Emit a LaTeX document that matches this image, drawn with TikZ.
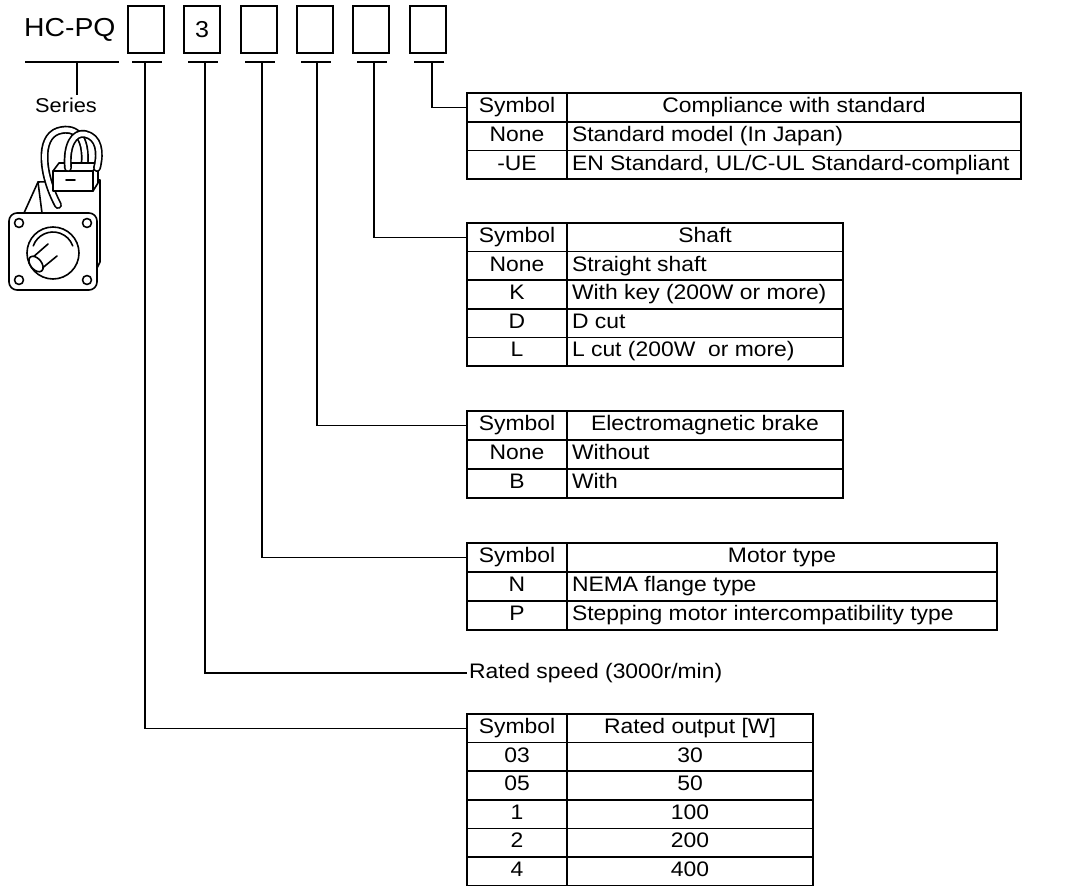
\documentclass[tikz,border=0pt]{standalone}
\usepackage{fontspec}
\setmainfont{Liberation Sans}[FakeStretch=1.09]
\usetikzlibrary{calc}

% rows of a symbol table: name prefix, (previous index,) index, symbol, description
\newcommand\firstrow[4]{%
  \node[cell, minimum width=\sw pt, minimum height=\rh pt] (#1s0) at #2 {#3};
  \node[cell, minimum width=\dw pt, minimum height=\rh pt] (#1d0) at (#1s0.north east) {#4};}
\newcommand\leftrow[5]{%
  \node[cell, minimum width=\sw pt, minimum height=\rh pt] (#1s#3) at (#1s#2.south west) {#4};
  \node[cell, minimum width=\dw pt, minimum height=\rh pt] (#1d#3) at (#1s#3.north east)
    {\makebox[\dw pt][l]{\hspace{5pt}#5}};}
\newcommand\centrow[5]{%
  \node[cell, minimum width=\sw pt, minimum height=\rh pt] (#1s#3) at (#1s#2.south west) {#4};
  \node[cell, minimum width=\dw pt, minimum height=\rh pt] (#1d#3) at (#1s#3.north east) {#5};}

\begin{document}
\begin{tikzpicture}[x=1pt,y=-1pt,
  txt/.style={font=\fontsize{21}{25}\selectfont},
  cell/.style={txt, draw, line width=1.6pt, inner sep=0pt, outer sep=0pt, anchor=north west,
    text height=15pt, text depth=4.5pt},
  codebox/.style={draw, line width=2.2pt, minimum width=36pt, minimum height=47pt,
    inner sep=0pt, outer sep=0pt, anchor=north west, font=\fontsize{23}{27}\selectfont},
  lead/.style={line width=1.6pt},
  motor/.style={line width=1.6pt, line join=round, line cap=round},
]
\useasboundingbox (0,0) rectangle (1084,886);

% model code
\node[anchor=west, inner sep=0pt, font=\fontsize{26}{30}\selectfont] (hc) at (24,30) {HC-PQ};
\node[codebox] (b1) at (128,6) {};
\node[codebox] (b2) at (184,6) {3};
\node[codebox] (b3) at (241,6) {};
\node[codebox] (b4) at (297,6) {};
\node[codebox] (b5) at (353,6) {};
\node[codebox] (b6) at (410,6) {};

% series label
\coordinate (su1) at (25,62);
\coordinate (su2) at (119,62);
\coordinate (st) at (77,95);
\draw[lead] (su1) -- (su2);
\draw[lead] (st |- su1) -- (st);
\node[inner sep=0pt, font=\fontsize{20}{24}\selectfont] (series) at (66,105) {Series};

% underlines below the code boxes
\foreach \b in {b1,b2,b3,b4,b5,b6}
  \draw[lead] ($(\b.south west)+(4,9)$) -- ($(\b.south east)+(-2,9)$);

% compliance table
\def\sw{100}\def\dw{454}\def\rh{28.7}
\firstrow{ta}{(467,93)}{Symbol}{Compliance with standard}
\leftrow{ta}{0}{1}{None}{Standard model (In Japan)}
\leftrow{ta}{1}{2}{-UE}{EN Standard, UL/C-UL Standard-compliant}

% shaft table
\def\sw{100}\def\dw{276}\def\rh{28.6}
\firstrow{tb}{(467,223)}{Symbol}{Shaft}
\leftrow{tb}{0}{1}{None}{Straight shaft}
\leftrow{tb}{1}{2}{K}{With key (200W or more)}
\leftrow{tb}{2}{3}{D}{D cut}
\leftrow{tb}{3}{4}{L}{L cut (200W\ \ or more)}

% brake table
\def\sw{100}\def\dw{276}\def\rh{29}
\firstrow{tc}{(467,411)}{Symbol}{Electromagnetic brake}
\leftrow{tc}{0}{1}{None}{Without}
\leftrow{tc}{1}{2}{B}{With}

% motor type table
\def\sw{100}\def\dw{430}\def\rh{29}
\firstrow{td}{(467,543)}{Symbol}{Motor type}
\leftrow{td}{0}{1}{N}{NEMA flange type}
\leftrow{td}{1}{2}{P}{Stepping motor intercompatibility type}

% rated speed
\node[txt, anchor=west, inner sep=0pt, outer xsep=2pt] (rs) at (467,673) {Rated speed (3000r/min)};

% rated output table
\def\sw{100}\def\dw{246}\def\rh{28.6}
\firstrow{te}{(467,714)}{Symbol}{Rated output [W]}
\centrow{te}{0}{1}{03}{30}
\centrow{te}{1}{2}{05}{50}
\centrow{te}{2}{3}{1}{100}
\centrow{te}{3}{4}{2}{200}
\centrow{te}{4}{5}{4}{400}

% leaders from the code boxes to their tables
\draw[lead] ($(b6.south)+(4,9)$) |- (tas0.west);
\draw[lead] ($(b5.south)+(3,9)$) |- (tbs0.west);
\draw[lead] ($(b4.south)+(2,9)$) |- (tcs0.west);
\draw[lead] ($(b3.south)+(3,9)$) |- (tds0.west);
\draw[lead] ($(b2.south)+(3,9)$) |- (rs.west);
\draw[lead] ($(b1.south)+(-1,9)$) |- (tes0.west);

% servo motor sketch
\begin{scope}[motor]
  % body top and side faces
  \draw (24,213) -- (38,182) -- (100,180) -- (100,262) -- (97,268);
  \draw (38,182) -- (42,213);
  % cable loops
  \draw[line width=8pt] (58,205) .. controls (42,175) and (38,138) .. (58,131) .. controls (78,125) and (88,140) .. (84,170);
  \draw[line width=4.6pt, white] (58,205) .. controls (42,175) and (38,138) .. (58,131) .. controls (78,125) and (88,140) .. (84,170);
  % terminal box
  \draw[fill=white] (53,171) -- (59,163) -- (98,163) -- (98,183) -- (93,191) -- (53,191) -- cycle;
  \draw (53,171) -- (93,171) -- (98,163);
  \draw (93,171) -- (93,191);
  \draw (66,180) -- (75,180);
  \draw[line width=8pt] (68,168) .. controls (66,145) and (74,132) .. (85,134) .. controls (99,137) and (101,152) .. (97,168);
  \draw[line width=4.6pt, white] (68,168) .. controls (66,145) and (74,132) .. (85,134) .. controls (99,137) and (101,152) .. (97,168);
  % flange
  \draw[fill=white, rounded corners=8pt] (9,213) rectangle (97,290);
  \foreach \p in {(19,223),(87,223),(19,280),(87,280)} \draw \p circle (4.5);
  \draw (53,253) circle (26);
  \draw (53,253) ++(200:21) arc (200:340:21);
  % shaft
  \draw[fill=white] (48,244) -- (32,258) -- (40,270) -- (57,256);
  \draw[fill=white, rotate around={40:(36,264)}] (36,264) ellipse (5.5 and 9);
\end{scope}
\end{tikzpicture}
\end{document}
